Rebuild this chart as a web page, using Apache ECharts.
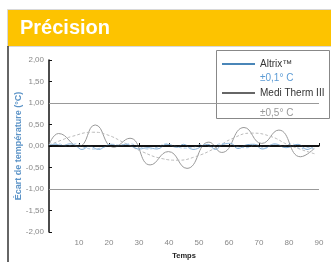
<!DOCTYPE html>
<html>
<head>
<meta charset="utf-8">
<script src="https://cdn.jsdelivr.net/npm/echarts@6/dist/echarts.min.js"></script>
<style>
  html, body { margin: 0; padding: 0; background: #fff; }
  #chart { width: 331px; height: 262px; }
</style>
</head>
<body>
<div id="chart"></div>
<script>
// valeurs
const yTicks = [-2, -1.5, -1, -0.5, 0, 0.5, 1, 1.5, 2];
const xTicks = [10, 20, 30, 40, 50, 60, 70, 80, 90];

const mediX = [0, 3.2, 9.9, 15.4, 21.5, 27, 33.7, 39.8, 46, 53.3, 57.6, 65, 70.9, 76.6, 83.8, 88.5];
const mediY = [0.02, 0.29, -0.01, 0.49, -0.03, 0.18, -0.44, -0.13, -0.52, 0.09, -0.15, 0.43, 0.06, 0.37, -0.25, -0.05];

const mediTrendX = [0, 4.3, 7.5, 14.5, 19, 25.5, 31, 37.5, 43, 48.7, 55.4, 61, 67.5, 74, 80, 88.5];
const mediTrendY = [0.02, 0.14, 0.22, 0.32, 0.27, 0.06, -0.13, -0.29, -0.33, -0.25, -0.05, 0.17, 0.3, 0.22, 0.02, -0.18];

const altrixX = [0, 2, 4.5, 7, 9, 11, 13.5, 16.5, 18.5, 20.5, 23, 25.5, 28, 30, 33, 36, 39.3, 42.6, 44.8, 48, 53, 55.4, 58.1, 60.5, 63, 66, 68.5, 71, 75.4, 79, 83, 86, 88];
const altrixY = [0.02, 0.04, 0.01, 0.05, 0.0, -0.08, 0.0, -0.08, -0.02, 0.04, 0.0, 0.04, -0.02, -0.07, -0.04, -0.07, 0.04, -0.03, 0.04, -0.08, 0.04, -0.08, 0.04, 0.06, -0.06, 0.03, 0.04, -0.07, 0.05, -0.04, 0.04, -0.08, -0.02];

const altrixTrendX = [0, 3, 6, 9, 12, 15, 18, 21, 24, 27, 30, 33, 36, 39, 42, 45, 48, 51, 54, 57, 60, 63, 66, 69, 72, 75, 78, 81, 84, 87, 88.5];
const altrixTrendY = [0.03, 0.05, 0.0, 0.05, -0.04, -0.07, -0.03, 0.04, 0.02, 0.05, -0.02, -0.07, -0.03, 0.05, 0.0, -0.05, -0.03, 0.04, -0.02, 0.05, 0.06, -0.02, -0.04, 0.03, -0.05, 0.04, 0.0, 0.05, -0.06, -0.03, -0.1];

function pairs(xs, ys) {
  return xs.map((x, i) => [x, ys[i]]);
}
function virgule(v) {
  return v.toFixed(2).replace('.', ',');
}

const font = '"Liberation Sans", Arial, Helvetica, sans-serif';
const chart = echarts.init(document.getElementById('chart'));

// une légende par produit : nom + précision sur deux lignes
function legendFor(name, sub, subColor, subLine, top, iconColor) {
  return {
    orient: 'vertical',
    left: 222,
    top: top,
    padding: 0,
    icon: 'rect',
    itemWidth: 33,
    itemHeight: 2,
    z: 4,
    data: [{ name: name, itemStyle: { color: iconColor } }],
    formatter: () => '{a|' + name + '}\n{b|' + sub + '}',
    textStyle: {
      padding: [subLine, 0, 0, 0],
      rich: {
        a: { color: '#333', fontSize: 10, lineHeight: 14, fontFamily: font },
        b: { color: subColor, fontSize: 10, lineHeight: subLine, fontFamily: font }
      }
    }
  };
}

chart.setOption({
  animation: false,
  textStyle: { fontFamily: font },
  title: {
    text: 'Précision',
    left: 20,
    top: 18,
    padding: 0,
    textStyle: { color: '#fff', fontSize: 20, fontWeight: 'bold', fontFamily: font }
  },
  graphic: [
    { type: 'rect', z: 0, shape: { x: 7.5, y: 9.5, width: 330, height: 37 }, style: { fill: '#fdc300', stroke: '#d8d8d8', lineWidth: 1 } },
    { type: 'line', z: 1, shape: { x1: 8, y1: 46, x2: 8, y2: 262 }, style: { stroke: '#333', lineWidth: 1.5 } },
    { type: 'rect', z: 3, shape: { x: 216.5, y: 50.5, width: 113, height: 68 }, style: { fill: '#fff', stroke: '#888', lineWidth: 1 } }
  ],
  grid: { left: 49, right: 12, top: 60, bottom: 30, outerBoundsMode: 'none', containLabel: false },
  legend: [
    legendFor('Altrix™', '±0,1° C', '#5b9bd5', 14, 59, '#4a86b8'),
    legendFor('Medi Therm III', '±0,5° C', '#999', 26, 88, '#666')
  ],
  xAxis: {
    type: 'value',
    min: 0,
    max: 90,
    interval: 10,
    name: 'Temps',
    nameLocation: 'middle',
    nameGap: 20,
    nameMoveOverlap: false,
    nameTextStyle: { color: '#222', fontSize: 7.5, fontWeight: 'bold' },
    axisLine: { lineStyle: { color: '#111', width: 1.5 } },
    axisTick: { inside: true, length: 3, lineStyle: { color: '#111' } },
    axisLabel: {
      color: '#888', fontSize: 8, margin: 7,
      formatter: v => (xTicks.indexOf(v) >= 0 ? String(v) : '')
    },
    splitLine: { show: false }
  },
  yAxis: {
    type: 'value',
    min: yTicks[0],
    max: yTicks[yTicks.length - 1],
    interval: 0.5,
    name: 'Écart de température (°C)',
    nameLocation: 'middle',
    nameGap: 26,
    nameMoveOverlap: false,
    nameTextStyle: { color: '#5b93c7', fontSize: 9, fontWeight: 'bold' },
    axisLine: { show: true, lineStyle: { color: '#111', width: 1.5 } },
    axisTick: { show: true, inside: true, length: 3, lineStyle: { color: '#111' } },
    axisLabel: { color: '#888', fontSize: 8, margin: 5, formatter: virgule },
    splitLine: { show: false }
  },
  series: [
    {
      name: 'Medi Therm III',
      type: 'line',
      data: pairs(mediX, mediY),
      smooth: true,
      showSymbol: false,
      color: '#999',
      lineStyle: { color: '#999', width: 1 },
      markLine: {
        silent: true,
        symbol: 'none',
        label: { show: false },
        data: [
          { yAxis: 1, lineStyle: { color: '#999', width: 1, type: 'solid' } },
          { yAxis: -1, lineStyle: { color: '#999', width: 1, type: 'solid' } },
          { yAxis: 0, lineStyle: { color: '#000', width: 1.5, type: 'solid' } }
        ]
      }
    },
    {
      name: 'Medi Therm III tendance',
      type: 'line',
      data: pairs(mediTrendX, mediTrendY),
      smooth: true,
      showSymbol: false,
      lineStyle: { color: '#bbb', width: 1, type: [3, 2] }
    },
    {
      name: 'Altrix™',
      type: 'line',
      data: pairs(altrixX, altrixY),
      smooth: true,
      showSymbol: false,
      color: '#8db4d6',
      lineStyle: { color: '#85aed3', width: 1 }
    },
    {
      name: 'Altrix™ tendance',
      type: 'line',
      data: pairs(altrixTrendX, altrixTrendY),
      smooth: true,
      showSymbol: false,
      lineStyle: { color: '#a9c8e4', width: 1, type: [3, 2] }
    }
  ]
});
</script>
</body>
</html>
